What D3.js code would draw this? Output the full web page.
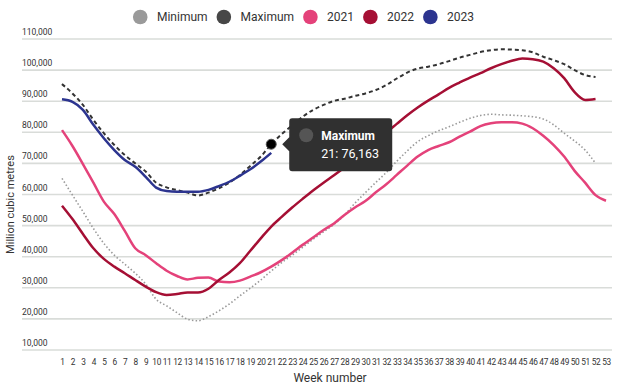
<!DOCTYPE html>
<html>
<head>
<meta charset="utf-8">
<script src="https://cdn.jsdelivr.net/npm/d3@7"></script>
<style>
  body { margin: 0; background: #fff; }
  svg { font-family: Roboto, "Noto Sans", sans-serif; display: block; }
</style>
</head>
<body>
<div id="chart"></div>
<script>
const fig_width = 640
const fig_height = 388

// week numbers on the x axis
const weeks = d3.range(1, 54)
const yTicks = [10000, 20000, 30000, 40000, 50000, 60000, 70000, 80000, 90000, 100000, 110000]

// values (million cubic metres), index 0 = week 1
const minimum = [65200, 59800, 54500, 49100, 44300, 40500, 37600, 34700, 31200, 26300,
  24200, 22000, 19900, 19400, 20700, 22600, 24800, 27400, 29900, 32500,
  35400, 38100, 40500, 43000, 45600, 48000, 50400, 53400, 57200, 60600,
  63900, 67100, 70700, 74000, 77000, 78900, 80500, 81800, 83200, 84500,
  85400, 85800, 85600, 85500, 85300, 85000, 84300, 82400, 79700, 77200,
  74300, 70000]
const maximum = [95500, 92500, 88800, 84000, 79700, 75900, 72700, 70000, 67400, 63800,
  62300, 61400, 60600, 59700, 60600, 62000, 63800, 66300, 69200, 72200,
  76163, 79400, 82200, 85000, 87200, 88800, 90100, 90800, 91700, 92500,
  93600, 95200, 97300, 99200, 100500, 101100, 101900, 102900, 104000, 104900,
  105800, 106400, 106700, 106600, 106400, 105700, 104300, 103200, 101900, 100000,
  98400, 97800]
const y2021 = [80700, 75600, 69800, 63800, 57700, 53700, 48300, 42700, 40500, 37900,
  35500, 33800, 32700, 33200, 33300, 32000, 31800, 32300, 33600, 35000,
  36800, 38900, 41300, 43800, 46200, 48600, 50700, 53400, 55800, 57900,
  60700, 63300, 66300, 69300, 72200, 74300, 75600, 76800, 78600, 80200,
  82000, 82900, 83200, 83200, 82800, 81300, 78900, 75900, 72200, 67600,
  63800, 59800, 58000]
const y2022 = [56400, 52100, 47300, 42700, 39300, 36800, 34700, 32500, 30400, 28600,
  27700, 28000, 28500, 28500, 29700, 32500, 34900, 37900, 41900, 45900,
  49700, 52800, 55800, 58600, 61300, 63800, 66200, 68700, 71300, 74000,
  76800, 79900, 82700, 85500, 88000, 90200, 92200, 94300, 96000, 97600,
  99000, 100600, 101900, 103000, 103700, 103500, 102700, 100600, 97400, 92900,
  90400, 90700]
const y2023 = [90600, 89800, 87200, 82400, 78100, 74300, 71100, 68900, 65700, 62200,
  61100, 60900, 60900, 60900, 61500, 62700, 64100, 66000, 68100, 70600,
  73400]

const series = [
  {name: 'Minimum', values: minimum, colour: '#9a9a9a', legend: '#9a9a9a', width: 1.6, dash: '1.5,2.2'},
  {name: 'Maximum', values: maximum, colour: '#333333', legend: '#474747', width: 2, dash: '4,3'},
  {name: '2021', values: y2021, colour: '#e4427a', legend: '#e4427a', width: 2.5, dash: null},
  {name: '2022', values: y2022, colour: '#a50f34', legend: '#a50f34', width: 2.5, dash: null},
  {name: '2023', values: y2023, colour: '#2c348f', legend: '#2c348f', width: 2.5, dash: null}
]

// tooltip is showing this point
const tip = {name: 'Maximum', week: 21}

const x = d3.scaleLinear().domain([1, 53]).range([62, 606])
const y = d3.scaleLinear().domain([10000, 110000]).range([350, 39])

const svg = d3.select('#chart').append('svg')
  .attr('width', fig_width)
  .attr('height', fig_height)

// horizontal gridlines with labels sitting above them
const grid = svg.append('g')
grid.selectAll('line')
  .data(yTicks)
  .join('line')
  .attr('x1', 22).attr('x2', 612)
  .attr('y1', d => y(d)).attr('y2', d => y(d))
  .attr('stroke', '#d9dcd9')
  .attr('stroke-width', 1.6)
grid.selectAll('text')
  .data(yTicks)
  .join('text')
  .attr('x', 22)
  .attr('y', d => y(d) - 4)
  .attr('font-size', 8.5)
  .attr('fill', '#333')
  .text(d => d3.format(',')(d))

// week axis
svg.append('g')
  .attr('transform', 'translate(0,355)')
  .call(d3.axisBottom(x).tickValues(weeks).tickSize(0).tickFormat(d3.format('d')))
  .call(g => g.select('.domain').remove())
  .call(g => g.selectAll('text')
    .attr('font-size', 8.3)
    .attr('font-family', 'Roboto, sans-serif')
    .attr('letter-spacing', '-0.3')
    .attr('fill', '#333')
    .attr('dy', '0.9em'))

svg.append('text')
  .attr('x', 330).attr('y', 382)
  .attr('text-anchor', 'middle')
  .attr('font-size', 12)
  .attr('fill', '#333')
  .text('Week number')

svg.append('text')
  .attr('transform', `translate(14,${(y(10000) + y(110000)) / 2 + 10}) rotate(-90)`)
  .attr('text-anchor', 'middle')
  .attr('font-size', 11)
  .attr('fill', '#333')
  .text('Million cubic metres')

// series lines
const line = d3.line()
  .x((d, i) => x(i + 1))
  .y(d => y(d))
  .curve(d3.curveMonotoneX)

svg.append('g').selectAll('path')
  .data(series)
  .join('path')
  .attr('d', d => line(d.values))
  .attr('fill', 'none')
  .attr('stroke', d => d.colour)
  .attr('stroke-width', d => d.width)
  .attr('stroke-dasharray', d => d.dash)
  .attr('stroke-linejoin', 'round')

// legend, centred above the plot
const legend = svg.append('g')
let lx = 0
const items = legend.selectAll('g')
  .data(series)
  .join('g')
items.append('circle')
  .attr('r', 7.3)
  .attr('cy', 17)
  .attr('fill', d => d.legend)
items.append('text')
  .attr('y', 21.3)
  .attr('font-size', 12)
  .attr('fill', '#333')
  .text(d => d.name)
items.each(function () {
  const g = d3.select(this)
  const w = g.select('text').node().getComputedTextLength()
  g.select('circle').attr('cx', lx + 7.3)
  g.select('text').attr('x', lx + 24)
  lx += 24 + w + 9
})
legend.attr('transform', `translate(${303.5 - (lx - 9) / 2},0)`)

// hovered point and tooltip
const tipSeries = series.find(s => s.name === tip.name)
const tipValue = tipSeries.values[tip.week - 1]
const px = x(tip.week)
const py = y(tipValue)

svg.append('circle')
  .attr('cx', px).attr('cy', py)
  .attr('r', 5)
  .attr('fill', '#000')
  .attr('stroke', '#555')
  .attr('stroke-width', 1)

const bx = px + 18
const by = py - 26
const bw = 103
const bh = 53
const tipG = svg.append('g')
tipG.append('path')
  .attr('d', `M${bx + 3},${by} H${bx + bw - 3} Q${bx + bw},${by} ${bx + bw},${by + 3}
    V${by + bh - 3} Q${bx + bw},${by + bh} ${bx + bw - 3},${by + bh}
    H${bx + 3} Q${bx},${by + bh} ${bx},${by + bh - 3}
    V${py + 7} L${bx - 7},${py} L${bx},${py - 7}
    V${by + 3} Q${bx},${by} ${bx + 3},${by} Z`)
  .attr('fill', '#303030')
tipG.append('circle')
  .attr('cx', bx + 17).attr('cy', by + 17)
  .attr('r', 7)
  .attr('fill', '#555')
tipG.append('text')
  .attr('x', bx + 32).attr('y', by + 21.5)
  .attr('font-size', 12)
  .attr('font-weight', 'bold')
  .attr('fill', '#fff')
  .text(tip.name)
tipG.append('text')
  .attr('x', bx + 32).attr('y', by + 39.5)
  .attr('font-size', 12.5)
  .attr('fill', '#fff')
  .text(`${tip.week}: ${d3.format(',')(tipValue)}`)
</script>
</body>
</html>
